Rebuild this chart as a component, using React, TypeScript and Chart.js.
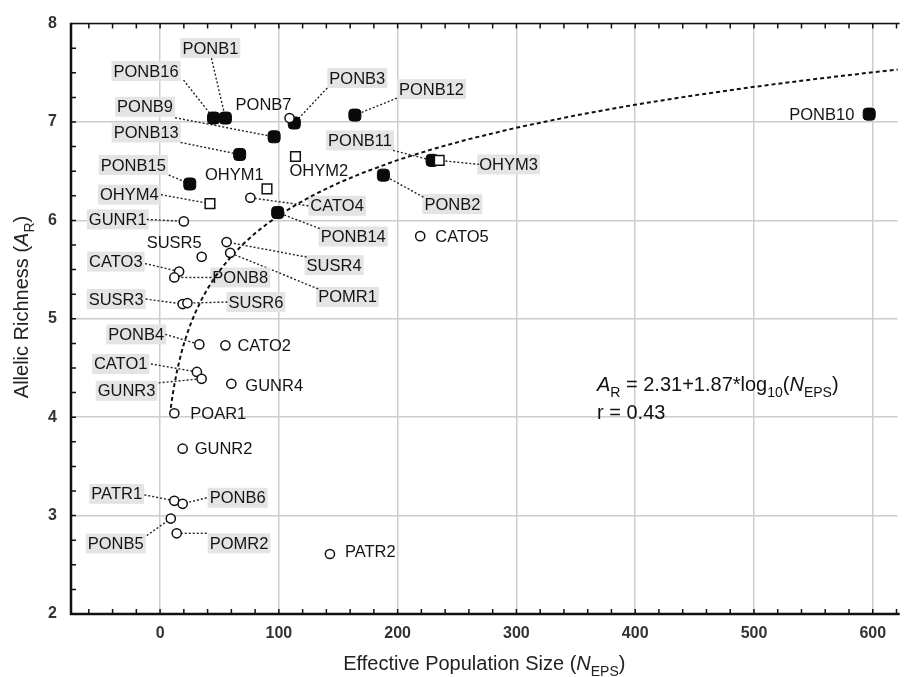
import React, { useEffect, useRef } from "react";
import { Chart, registerables } from "chart.js";

Chart.register(...registerables);

// ---------- data ----------
const populations = [
  "PONB1", "PONB16", "PONB9", "PONB3", "PONB13", "PONB15", "PONB14", "PONB12", "PONB11", "PONB2", "PONB10",
  "OHYM1", "OHYM2", "OHYM3", "OHYM4",
  "PONB7", "CATO4", "GUNR1", "CATO5", "SUSR5", "SUSR4", "POMR1", "CATO3", "PONB8", "SUSR3", "SUSR6",
  "PONB4", "CATO2", "CATO1", "GUNR3", "GUNR4", "POAR1", "GUNR2", "PATR1", "PONB6", "PONB5", "POMR2", "PATR2",
];
const nEps = [
  55, 45, 96, 113, 67, 25, 99, 164, 229, 188, 597,
  90, 114, 235, 42,
  109, 76, 20, 219, 35, 56, 59, 16, 12, 19, 23,
  33, 55, 31, 35, 60, 12, 19, 12, 19, 9, 14, 143,
];
const allelicRichness = [
  7.04, 7.04, 6.85, 6.99, 6.67, 6.37, 6.08, 7.07, 6.61, 6.46, 7.08,
  6.32, 6.65, 6.61, 6.17,
  7.04, 6.23, 5.99, 5.84, 5.63, 5.78, 5.67, 5.48, 5.42, 5.15, 5.16,
  4.74, 4.73, 4.46, 4.39, 4.34, 4.04, 3.68, 3.15, 3.12, 2.97, 2.82, 2.61,
];
const markerGroup = [
  "filled", "filled", "filled", "filled", "filled", "filled", "filled", "filled", "filled", "filled", "filled",
  "square", "square", "square", "square",
  "circle", "circle", "circle", "circle", "circle", "circle", "circle", "circle", "circle", "circle", "circle",
  "circle", "circle", "circle", "circle", "circle", "circle", "circle", "circle", "circle", "circle", "circle", "circle",
];
const xTickValues = [0, 100, 200, 300, 400, 500, 600];
const yTickValues = [2, 3, 4, 5, 6, 7, 8];
// fitted regression shown on the chart: AR = 2.31 + 1.87*log10(NEPS)
const fitIntercept = 2.31;
const fitSlope = 1.87;
const fitX = [9, 10, 11, 12, 14, 16, 18, 20, 23, 26, 30, 35, 40, 46, 53, 60, 70, 80, 90, 100, 115, 130, 150, 170, 200, 230, 260, 300, 350, 400, 450, 500, 550, 600, 625];

// ---------- label layout (pixel offsets from the point) ----------
// [dx, dy, boxed, lineDx, lineDy]  (lineDx null => no leader line)
const labelLayout: Record<string, [number, number, boolean, number | null, number | null]> = {
  PONB1: [-43, -70, true, -14, -60],
  PONB16: [-100, -47, true, -30, -38],
  PONB9: [-157, -30, true, -99, -19],
  PONB7: [-54, -14, false, null, null],
  PONB3: [35, -45, true, 33, -35],
  PONB12: [44, -26, true, 42, -17],
  PONB13: [-126, -22, true, -59, -12],
  PONB15: [-89, -19, true, -21, -9],
  OHYM1: [-62, -14, false, null, null],
  OHYM2: [-6, 14, false, null, null],
  OHYM4: [-110, -9, true, -49, -9],
  CATO4: [60, 8, true, 58, 8],
  GUNR1: [-95, -2, true, -37, -2],
  PONB11: [-104, -20, true, -39, -10],
  OHYM3: [40, 4, true, 40, 4],
  PONB2: [41, 29, true, 40, 22],
  PONB14: [43, 24, true, 42, 16],
  CATO5: [15, 0, false, null, null],
  PONB10: [-80, 0, false, null, null],
  SUSR5: [-55, -14, false, null, null],
  SUSR4: [80, 23, true, 80, 15],
  POMR1: [88, 44, true, 88, 36],
  CATO3: [-90, -10, true, -34, -8],
  PONB8: [38, 0, true, 37, 0],
  SUSR3: [-94, -5, true, -37, -5],
  SUSR6: [41, -1, true, 40, -1],
  PONB4: [-91, -10, true, -34, -10],
  CATO2: [12, 0, false, null, null],
  CATO1: [-103, -8, true, -46, -8],
  GUNR3: [-104, 12, true, -43, 4],
  GUNR4: [14, 2, false, null, null],
  POAR1: [16, 0, false, null, null],
  GUNR2: [12, 0, false, null, null],
  PATR1: [-83, -7, true, -30, -6],
  PONB6: [27, -6, true, 24, -6],
  PONB5: [-83, 25, true, -24, 17],
  POMR2: [33, 10, true, 30, 0],
  PATR2: [15, -3, false, null, null],
};

const FONT = '"Liberation Sans", Arial, Helvetica, sans-serif';

type Seg = { t: string; italic?: boolean; sub?: boolean };

function segFont(s: Seg, size: number) {
  const sz = s.sub ? Math.round(size * 0.7) : size;
  return `${s.italic ? "italic " : ""}${sz}px ${FONT}`;
}

function drawRich(ctx: CanvasRenderingContext2D, x: number, y: number, segs: Seg[], size: number, align: "left" | "center") {
  let total = 0;
  for (const s of segs) {
    ctx.font = segFont(s, size);
    total += ctx.measureText(s.t).width;
  }
  let cx = align === "center" ? x - total / 2 : x;
  ctx.textAlign = "left";
  ctx.textBaseline = "alphabetic";
  for (const s of segs) {
    ctx.font = segFont(s, size);
    ctx.fillText(s.t, cx, s.sub ? y + size * 0.28 : y);
    cx += ctx.measureText(s.t).width;
  }
}

const annotatePlugin = {
  id: "annotate",
  beforeDatasetsDraw(chart: any) {
    const ctx: CanvasRenderingContext2D = chart.ctx;
    const xs = chart.scales.x;
    const ys = chart.scales.y;
    ctx.save();
    ctx.font = `16.5px ${FONT}`;
    ctx.textBaseline = "middle";
    ctx.textAlign = "left";
    populations.forEach((name, i) => {
      const lay = labelLayout[name];
      if (!lay) return;
      const px = xs.getPixelForValue(nEps[i]);
      const py = ys.getPixelForValue(allelicRichness[i]);
      const [dx, dy, boxed, ldx, ldy] = lay;
      const lx = px + dx;
      const ly = py + dy;
      ctx.font = `16.5px ${FONT}`;
      const w = ctx.measureText(name).width;
      if (boxed) {
        ctx.fillStyle = "#e4e4e4";
        ctx.fillRect(lx - 2, ly - 10, w + 4, 20);
      }
      if (ldx !== null && ldy !== null) {
        ctx.strokeStyle = "#222";
        ctx.lineWidth = 1.4;
        ctx.setLineDash([2, 2]);
        ctx.beginPath();
        ctx.moveTo(px + ldx, py + ldy);
        ctx.lineTo(px, py);
        ctx.stroke();
        ctx.setLineDash([]);
      }
      ctx.fillStyle = "#141414";
      ctx.fillText(name, lx, ly + 1);
    });
    ctx.restore();
  },
  afterDraw(chart: any) {
    const ctx: CanvasRenderingContext2D = chart.ctx;
    const a = chart.chartArea;
    const xs = chart.scales.x;
    const ys = chart.scales.y;
    ctx.save();
    // frame
    ctx.strokeStyle = "#111";
    ctx.lineWidth = 1.5;
    ctx.beginPath();
    ctx.moveTo(a.left, a.top);
    ctx.lineTo(a.right + 2, a.top);
    ctx.stroke();
    ctx.lineWidth = 2.5;
    ctx.beginPath();
    ctx.moveTo(a.left, a.top - 0.75);
    ctx.lineTo(a.left, a.bottom);
    ctx.lineTo(a.right + 2, a.bottom);
    ctx.stroke();
    // minor ticks
    ctx.lineWidth = 1.5;
    ctx.beginPath();
    for (let v = -60; v <= 620; v += 20) {
      const x = xs.getPixelForValue(v);
      ctx.moveTo(x, a.bottom);
      ctx.lineTo(x, a.bottom - 5);
      ctx.moveTo(x, a.top);
      ctx.lineTo(x, a.top + 5);
    }
    for (let v = 2.25; v < 8; v += 0.25) {
      const y = ys.getPixelForValue(v);
      ctx.moveTo(a.left, y);
      ctx.lineTo(a.left + 5, y);
    }
    ctx.stroke();

    // axis titles
    ctx.fillStyle = "#222";
    drawRich(ctx, (a.left + a.right) / 2, 670, [
      { t: "Effective Population Size (" },
      { t: "N", italic: true },
      { t: "EPS", sub: true },
      { t: ")" },
    ], 20, "center");
    ctx.save();
    ctx.translate(28, 307);
    ctx.rotate(-Math.PI / 2);
    drawRich(ctx, 0, 0, [
      { t: "Allelic Richness (" },
      { t: "A", italic: true },
      { t: "R", sub: true },
      { t: ")" },
    ], 20, "center");
    ctx.restore();

    // equation
    ctx.fillStyle = "#111";
    drawRich(ctx, 597, 391, [
      { t: "A", italic: true },
      { t: "R", sub: true },
      { t: " = 2.31+1.87*log" },
      { t: "10", sub: true },
      { t: "(" },
      { t: "N", italic: true },
      { t: "EPS", sub: true },
      { t: ")" },
    ], 20, "left");
    drawRich(ctx, 597, 419, [{ t: "r = 0.43" }], 20, "left");
    ctx.restore();
  },
};

export default function App() {
  const canvasRef = useRef<HTMLCanvasElement | null>(null);

  useEffect(() => {
    const canvas = canvasRef.current;
    if (!canvas) return;
    const pts = (g: string) =>
      populations
        .map((_, i) => i)
        .filter((i) => markerGroup[i] === g)
        .map((i) => ({ x: nEps[i], y: allelicRichness[i] }));

    const fitData = fitX.map((x) => ({ x, y: fitIntercept + fitSlope * Math.log10(x) }));

    const tickFont = { family: FONT, size: 16, weight: "bold" as const };

    const chart = new Chart(canvas, {
      type: "scatter",
      data: {
        datasets: [
          {
            type: "line",
            data: fitData,
            borderColor: "#111",
            borderWidth: 2,
            borderDash: [4, 3],
            pointRadius: 0,
            fill: false,
            tension: 0,
            order: 3,
          } as any,
          {
            data: pts("circle"),
            pointStyle: "circle",
            pointRadius: 4.6,
            backgroundColor: "#ffffff",
            borderColor: "#111",
            borderWidth: 1.5,
            order: 1,
          },
          {
            data: pts("square"),
            pointStyle: "rect",
            pointRadius: 6.8,
            backgroundColor: "#ffffff",
            borderColor: "#111",
            borderWidth: 1.5,
            order: 1,
          },
          {
            data: pts("filled"),
            pointStyle: "rectRounded",
            pointRadius: 7,
            backgroundColor: "#0a0a0a",
            borderColor: "#0a0a0a",
            borderWidth: 1,
            order: 1,
          },
        ],
      },
      options: {
        responsive: false,
        animation: false,
        events: [],
        layout: { padding: { top: 20, right: 0, left: 0, bottom: 0 } },
        plugins: { legend: { display: false }, tooltip: { enabled: false } },
        scales: {
          x: {
            type: "linear",
            min: -75,
            max: 621,
            afterBuildTicks: (s: any) => {
              s.ticks = xTickValues.map((v) => ({ value: v }));
            },
            afterFit: (s: any) => {
              s.height = 63;
            },
            grid: { color: "#cdcdcd", lineWidth: 1.5, drawTicks: false },
            border: { display: false },
            ticks: { font: tickFont, color: "#333", padding: 10, maxRotation: 0, autoSkip: false },
          },
          y: {
            type: "linear",
            min: 2,
            max: 8,
            afterBuildTicks: (s: any) => {
              s.ticks = yTickValues.map((v) => ({ value: v }));
            },
            afterFit: (s: any) => {
              s.width = 71;
            },
            grid: { color: "#cdcdcd", lineWidth: 1.5, drawTicks: false },
            border: { display: false },
            ticks: { font: tickFont, color: "#333", padding: 14, autoSkip: false },
          },
        },
      },
      plugins: [annotatePlugin],
    });
    return () => chart.destroy();
  }, []);

  return (
    <div style={{ position: "fixed", left: 0, top: 0, width: 906, height: 677, background: "#fff" }}>
      <canvas ref={canvasRef} width={906} height={677} style={{ display: "block", width: 906, height: 677 }} />
    </div>
  );
}
